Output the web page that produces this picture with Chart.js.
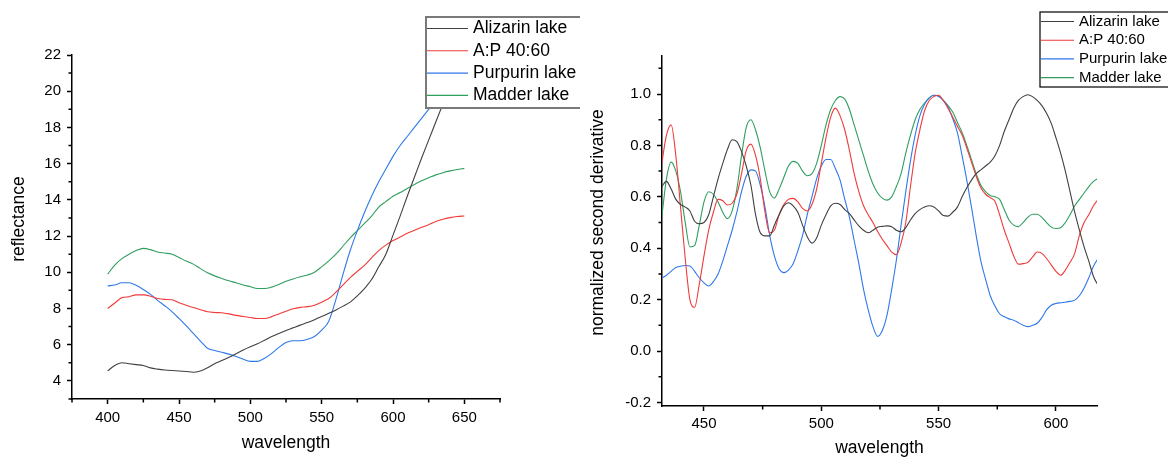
<!DOCTYPE html>
<html>
<head>
<meta charset="utf-8">
<script src="https://cdn.jsdelivr.net/npm/chart.js@4.4.1/dist/chart.umd.min.js"></script>
<style>
  html, body { margin: 0; padding: 0; background: #fff; }
  body { width: 1168px; height: 459px; position: relative; overflow: hidden; }
  .panel { position: absolute; top: 0; }
  #left-panel { left: 0; }
  #right-panel { left: 580px; }
</style>
</head>
<body>
<div class="panel" id="left-panel"><canvas id="reflectance-chart" width="580" height="459"></canvas></div>
<div class="panel" id="right-panel"><canvas id="derivative-chart" width="588" height="459"></canvas></div>
<script>
// ---- data: reflectance spectra (left) ----
const seriesNames = ['Alizarin lake', 'A:P 40:60', 'Purpurin lake', 'Madder lake'];
const seriesColors = ['#404040', '#f03a3a', '#2f78ea', '#2f9e5e'];

const reflWavelengths = [400,405,410,415,420,425,430,435,440,445,450,455,460,465,470,475,480,485,490,495,500,505,510,515,520,525,530,535,540,545,550,555,560,565,570,575,580,585,590,595,600,605,610,615,620,625,630,635,640,645,650];
const alizarinRefl = [4.55,4.85,5.0,4.95,4.9,4.85,4.72,4.65,4.6,4.57,4.55,4.52,4.48,4.55,4.72,4.95,5.12,5.3,5.5,5.7,5.88,6.05,6.25,6.45,6.62,6.78,6.93,7.08,7.22,7.38,7.55,7.73,7.92,8.13,8.35,8.7,9.1,9.6,10.3,11.0,12.05,13.1,14.2,15.25,16.3,17.3,18.3,19.3,20.3,21.3,22.3];
const apRefl = [8.0,8.3,8.6,8.65,8.75,8.75,8.68,8.55,8.5,8.48,8.32,8.18,8.05,7.93,7.82,7.78,7.76,7.7,7.62,7.56,7.5,7.45,7.45,7.55,7.7,7.85,7.98,8.06,8.1,8.18,8.35,8.55,8.9,9.3,9.7,10.05,10.38,10.8,11.2,11.5,11.75,11.95,12.15,12.32,12.48,12.63,12.8,12.93,13.02,13.08,13.11];
const purpurinRefl = [9.25,9.3,9.42,9.42,9.28,9.05,8.78,8.45,8.15,7.83,7.45,7.05,6.62,6.2,5.8,5.68,5.58,5.48,5.35,5.2,5.08,5.08,5.25,5.52,5.85,6.12,6.22,6.22,6.3,6.45,6.8,7.3,8.5,9.9,11.2,12.3,13.3,14.2,15.0,15.7,16.4,17.0,17.5,18.0,18.5,19.0,19.45,19.9,20.3,20.7,21.0];
const madderRefl = [9.9,10.4,10.75,11.0,11.2,11.32,11.25,11.12,11.06,11.0,10.82,10.62,10.45,10.2,9.97,9.8,9.66,9.53,9.42,9.3,9.2,9.1,9.1,9.18,9.33,9.5,9.63,9.75,9.85,10.0,10.3,10.63,11.0,11.45,11.9,12.3,12.7,13.1,13.6,13.9,14.2,14.4,14.63,14.85,15.05,15.22,15.38,15.5,15.6,15.68,15.74];

const reflXTicks = [400, 450, 500, 550, 600, 650];
const reflXMinor = [375, 425, 475, 525, 575, 625, 675];
const reflYTicks = [4, 6, 8, 10, 12, 14, 16, 18, 20, 22];
const reflYMinor = [3, 5, 7, 9, 11, 13, 15, 17, 19, 21];

// ---- data: normalized second derivative (right) ----
const derivWavelengths = [432,434,436,438,440,442,444,446,448,450,452,454,456,458,460,462,464,466,468,470,472,474,476,478,480,482,484,486,488,490,492,494,496,498,500,502,504,506,508,510,512,514,516,518,520,522,524,526,528,530,532,534,536,538,540,542,544,546,548,550,552,554,556,558,560,562,564,566,568,570,572,574,576,578,580,582,584,586,588,590,592,594,596,598,600,602,604,606,608,610,612,614,616,618];
const alizarinDeriv = [0.64,0.66,0.63,0.59,0.57,0.56,0.545,0.505,0.495,0.5,0.53,0.6,0.67,0.73,0.785,0.822,0.815,0.776,0.72,0.645,0.53,0.46,0.448,0.448,0.49,0.53,0.565,0.577,0.565,0.54,0.49,0.445,0.42,0.44,0.49,0.53,0.565,0.575,0.57,0.55,0.535,0.51,0.487,0.47,0.46,0.47,0.482,0.485,0.487,0.484,0.47,0.464,0.48,0.51,0.535,0.55,0.56,0.565,0.56,0.545,0.527,0.525,0.54,0.56,0.6,0.635,0.665,0.69,0.705,0.72,0.735,0.76,0.8,0.855,0.9,0.945,0.975,0.99,0.997,0.99,0.975,0.955,0.925,0.886,0.83,0.77,0.7,0.62,0.54,0.47,0.405,0.35,0.29,0.255];
const apDeriv = [0.73,0.84,0.88,0.76,0.56,0.36,0.2,0.17,0.26,0.37,0.47,0.54,0.59,0.585,0.568,0.575,0.61,0.69,0.78,0.805,0.76,0.67,0.54,0.46,0.47,0.53,0.57,0.59,0.594,0.58,0.555,0.545,0.57,0.63,0.73,0.83,0.91,0.945,0.915,0.86,0.78,0.69,0.62,0.565,0.53,0.5,0.465,0.435,0.41,0.385,0.375,0.42,0.5,0.64,0.77,0.86,0.935,0.975,0.99,0.995,0.975,0.945,0.91,0.875,0.84,0.79,0.735,0.68,0.635,0.61,0.597,0.583,0.53,0.47,0.42,0.37,0.338,0.34,0.345,0.365,0.385,0.38,0.36,0.335,0.31,0.295,0.315,0.345,0.38,0.45,0.5,0.53,0.565,0.59];
const purpurinDeriv = [0.283,0.295,0.31,0.325,0.33,0.333,0.331,0.31,0.285,0.265,0.253,0.27,0.3,0.35,0.41,0.47,0.54,0.62,0.68,0.705,0.7,0.645,0.56,0.45,0.37,0.32,0.305,0.315,0.34,0.39,0.45,0.53,0.6,0.67,0.72,0.745,0.745,0.71,0.665,0.59,0.52,0.43,0.34,0.24,0.16,0.095,0.057,0.08,0.14,0.24,0.354,0.49,0.62,0.74,0.84,0.915,0.96,0.985,0.995,0.99,0.975,0.95,0.905,0.85,0.76,0.665,0.56,0.45,0.35,0.28,0.215,0.175,0.145,0.133,0.125,0.12,0.11,0.1,0.095,0.1,0.108,0.13,0.16,0.178,0.185,0.188,0.19,0.193,0.198,0.215,0.245,0.285,0.33,0.36];
const madderDeriv = [0.52,0.67,0.735,0.7,0.62,0.5,0.405,0.41,0.49,0.58,0.62,0.61,0.58,0.54,0.515,0.545,0.63,0.76,0.87,0.9,0.86,0.79,0.7,0.62,0.595,0.63,0.675,0.72,0.738,0.73,0.7,0.682,0.69,0.73,0.8,0.88,0.94,0.975,0.99,0.98,0.94,0.88,0.82,0.76,0.7,0.65,0.615,0.595,0.587,0.6,0.64,0.69,0.77,0.84,0.9,0.94,0.965,0.985,0.995,0.993,0.975,0.955,0.93,0.89,0.85,0.8,0.745,0.69,0.645,0.62,0.605,0.6,0.59,0.55,0.51,0.49,0.484,0.5,0.52,0.532,0.532,0.52,0.5,0.482,0.477,0.48,0.5,0.53,0.565,0.59,0.615,0.64,0.66,0.672];

const derivXTicks = [450, 500, 550, 600];
const derivXMinor = [475, 525, 575];
const derivYTicks = [-0.2, 0, 0.2, 0.4, 0.6, 0.8, 1.0];
const derivYMinor = [-0.1, 0.1, 0.3, 0.5, 0.7, 0.9, 1.1];

const fontFamily = "'Liberation Sans', Arial, sans-serif";

const toPoints = (xs, ys) => xs.map((x, i) => ({ x: x, y: ys[i] }));

const makeDatasets = (xs, seriesList) => seriesList.map((ys, i) => ({
    label: seriesNames[i],
    data: toPoints(xs, ys),
    borderColor: seriesColors[i],
    borderWidth: 1.1,
    pointRadius: 0,
    fill: false,
    cubicInterpolationMode: 'monotone'
}));

// minor tick marks, drawn through the chart's own scales
const minorTickPlugin = {
    id: 'minorTicks',
    afterDraw(chart, args, opts) {
        const { ctx, chartArea, scales } = chart;
        ctx.save();
        ctx.strokeStyle = '#000';
        ctx.lineWidth = 1.5;
        ctx.beginPath();
        opts.x.forEach(v => {
            const px = scales.x.getPixelForValue(v);
            ctx.moveTo(px, chartArea.bottom);
            ctx.lineTo(px, chartArea.bottom + 3.5);
        });
        opts.y.forEach(v => {
            const py = scales.y.getPixelForValue(v);
            ctx.moveTo(chartArea.left, py);
            ctx.lineTo(chartArea.left - 3.5, py);
        });
        ctx.stroke();
        ctx.restore();
    }
};

// rotated y title (Origin puts it a little above the axis middle)
const yTitlePlugin = {
    id: 'yTitle',
    afterDraw(chart, args, opts) {
        const ctx = chart.ctx;
        ctx.save();
        ctx.translate(opts.x, opts.y);
        ctx.rotate(-Math.PI / 2);
        ctx.font = '17.5px ' + fontFamily;
        ctx.fillStyle = '#000';
        ctx.textAlign = 'center';
        ctx.textBaseline = 'middle';
        ctx.fillText(opts.text, 0, 0);
        ctx.restore();
    }
};

// boxed legend sitting over the plot
const boxLegendPlugin = {
    id: 'boxLegend',
    afterDraw(chart, args, opts) {
        const ctx = chart.ctx;
        ctx.save();
        ctx.fillStyle = '#fff';
        ctx.fillRect(opts.left, opts.top, opts.width, opts.height);
        ctx.strokeStyle = opts.borderColor;
        ctx.lineWidth = opts.borderWidth;
        ctx.strokeRect(opts.left, opts.top, opts.width, opts.height);
        ctx.font = opts.fontSize + 'px ' + fontFamily;
        ctx.textBaseline = 'middle';
        chart.data.datasets.forEach((ds, i) => {
            const y = opts.firstRow + i * opts.rowGap;
            ctx.strokeStyle = ds.borderColor;
            ctx.lineWidth = 1.1;
            ctx.beginPath();
            ctx.moveTo(opts.left + 1, y);
            ctx.lineTo(opts.left + 1 + opts.sample, y);
            ctx.stroke();
            ctx.fillStyle = '#000';
            ctx.fillText(ds.label, opts.textX, y);
        });
        ctx.restore();
    }
};

const axisScale = (cfg) => ({
    type: 'linear',
    min: cfg.min,
    max: cfg.max,
    border: { display: true, color: '#000', width: 1.5 },
    grid: { display: true, drawOnChartArea: false, drawTicks: true, tickLength: 5, tickColor: '#000', tickWidth: 1.5 },
    ticks: {
        color: '#000',
        padding: cfg.padding,
        font: { family: fontFamily, size: 15 },
        callback: cfg.format
    },
    title: cfg.title ? {
        display: true,
        text: cfg.title,
        color: '#000',
        font: { family: fontFamily, size: 17.5, lineHeight: 1.2 },
        padding: { top: 0, bottom: cfg.titlePad }
    } : { display: false },
    afterBuildTicks: s => { s.ticks = cfg.ticks.map(v => ({ value: v })); },
    afterFit: s => {
        if (cfg.width) s.width = cfg.width;
        if (cfg.height) s.height = cfg.height;
    }
});

new Chart(document.getElementById('reflectance-chart'), {
    type: 'line',
    data: { datasets: makeDatasets(reflWavelengths, [alizarinRefl, apRefl, purpurinRefl, madderRefl]) },
    options: {
        responsive: false,
        animation: false,
        layout: { padding: { left: 0, right: 80, top: 55, bottom: 0 } },
        scales: {
            x: axisScale({ min: 375, max: 675, ticks: reflXTicks, padding: 5, height: 60, title: 'wavelength', titlePad: 5.5, format: v => String(v) }),
            y: axisScale({ min: 3, max: 22, ticks: reflYTicks, padding: 6, width: 72, format: v => String(v) })
        },
        plugins: {
            legend: { display: false },
            tooltip: { enabled: false },
            minorTicks: { x: reflXMinor, y: reflYMinor },
            yTitle: { text: 'reflectance', x: 19, y: 219 },
            boxLegend: { left: 426, top: 17, width: 200, height: 91, firstRow: 28.5, rowGap: 22.3, sample: 41, textX: 473, fontSize: 17.5, borderColor: '#7a7a7a', borderWidth: 2 }
        }
    },
    plugins: [minorTickPlugin, yTitlePlugin, boxLegendPlugin]
});

new Chart(document.getElementById('derivative-chart'), {
    type: 'line',
    data: { datasets: makeDatasets(derivWavelengths, [alizarinDeriv, apDeriv, purpurinDeriv, madderDeriv]) },
    options: {
        responsive: false,
        animation: false,
        layout: { padding: { left: 0, right: 71, top: 56, bottom: 0 } },
        scales: {
            x: axisScale({ min: 432.1, max: 617.5, ticks: derivXTicks, padding: 4, height: 53, title: 'wavelength', titlePad: 0, format: v => String(v) }),
            y: axisScale({ min: -0.214, max: 1.148, ticks: derivYTicks, padding: 6, width: 82, format: v => v.toFixed(1) })
        },
        plugins: {
            legend: { display: false },
            tooltip: { enabled: false },
            minorTicks: { x: derivXMinor, y: derivYMinor },
            yTitle: { text: 'normalized second derivative', x: 18, y: 222.5 },
            boxLegend: { left: 460, top: 12, width: 140, height: 75, firstRow: 21.5, rowGap: 18.7, sample: 33, textX: 499, fontSize: 15, borderColor: '#000', borderWidth: 1.2 }
        }
    },
    plugins: [minorTickPlugin, yTitlePlugin, boxLegendPlugin]
});
</script>
</body>
</html>
